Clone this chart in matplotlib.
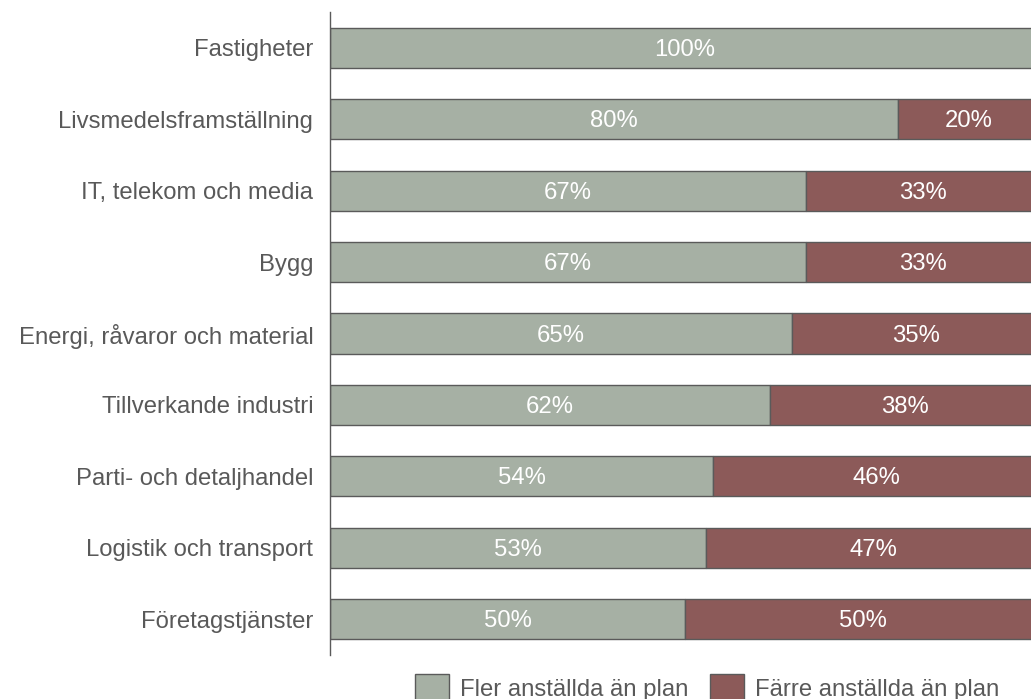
import matplotlib
matplotlib.use("Agg")
import matplotlib.pyplot as plt
from matplotlib.patches import Patch

categories = ["Fastigheter", "Livsmedelsframställning", "IT, telekom och media", "Bygg",
              "Energi, råvaror och material", "Tillverkande industri",
              "Parti- och detaljhandel", "Logistik och transport", "Företagstjänster"]
fler = [100, 80, 67, 67, 65, 62, 54, 53, 50]
farre = [0, 20, 33, 33, 35, 38, 46, 47, 50]
series_names = ["Fler anställda än plan", "Färre anställda än plan"]

GREEN = "#A6B0A4"
RED = "#8C5A59"
EDGE = "#5A5A5A"
TEXT = "#595959"

plt.rcParams['font.family'] = ['Liberation Sans', 'DejaVu Sans']
fs = 17.2

W, H = 1031, 699
fig = plt.figure(figsize=(W / 100, H / 100), dpi=100)
ax = fig.add_axes([330 / W, (H - 655) / H, 710 / W, 643 / H])

y = list(range(len(categories)))
bh = 0.56
ax.barh(y, fler, height=bh, color=GREEN, edgecolor=EDGE, linewidth=1.0)
ax.barh(y, farre, left=fler, height=bh, color=RED, edgecolor=EDGE, linewidth=1.0)

for i in y:
    if fler[i] > 0:
        ax.annotate(f"{fler[i]}%", (fler[i] / 2, i), xytext=(0, -1.5),
                    textcoords="offset points", ha="center", va="center",
                    color="white", fontsize=fs)
    if farre[i] > 0:
        ax.annotate(f"{farre[i]}%", (fler[i] + farre[i] / 2, i), xytext=(0, -1.5),
                    textcoords="offset points", ha="center", va="center",
                    color="white", fontsize=fs)

ax.set_xlim(0, 100)
ax.set_ylim(len(categories) - 0.5, -0.5)
ax.set_yticks(y)
ax.set_yticklabels(categories, fontsize=fs, color=TEXT)
ax.tick_params(axis="y", length=0, pad=12)
ax.set_xticks([])
for s in ["top", "right", "bottom"]:
    ax.spines[s].set_visible(False)
ax.spines["left"].set_color(EDGE)
ax.spines["left"].set_linewidth(1.0)

handles = [Patch(facecolor=GREEN, edgecolor=EDGE, linewidth=1.0),
           Patch(facecolor=RED, edgecolor=EDGE, linewidth=1.0)]
leg = fig.legend(handles, series_names, loc="center", bbox_to_anchor=(707 / W, 1 - 688 / H),
                 ncol=2, frameon=False, fontsize=fs, handlelength=1.45, handleheight=1.45,
                 handletextpad=0.46, columnspacing=0.88, labelcolor=TEXT,
                 borderpad=0, borderaxespad=0)

fig.savefig("out.png", dpi=100)
